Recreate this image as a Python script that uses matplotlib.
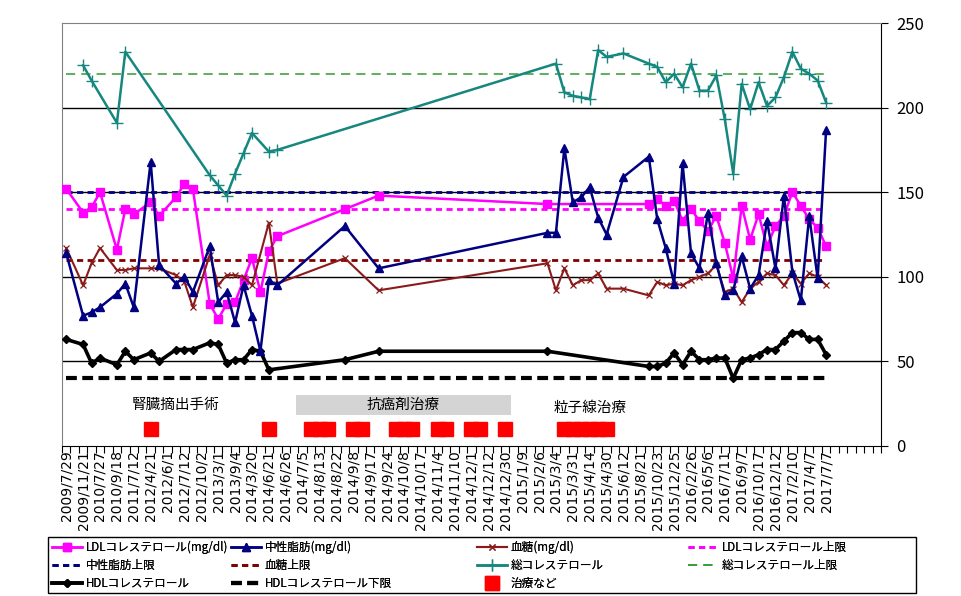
import numpy as np
import matplotlib
matplotlib.use("Agg")
import matplotlib.pyplot as plt
from matplotlib.patches import Rectangle

plt.rcParams['font.family'] = ['Noto Sans CJK JP', 'DejaVu Sans']

# ---- data (category index -> value); 97 categories on the axis, data up to 90
n_categories = 97
n_data = 91
date_labels = ["2009/7/29", "2009/11/21", "2010/7/27", "2010/9/18", "2011/7/12",
               "2012/4/21", "2012/6/1", "2012/7/12", "2012/10/2", "2013/3/1",
               "2013/9/4", "2014/3/20", "2014/6/21", "2014/6/26", "2014/7/5",
               "2014/8/13", "2014/8/22", "2014/9/8", "2014/9/17", "2014/9/24",
               "2014/10/8", "2014/10/17", "2014/11/4", "2014/11/10", "2014/12/1",
               "2014/12/12", "2014/12/30", "2015/1/9", "2015/2/6", "2015/3/4",
               "2015/3/31", "2015/4/14", "2015/4/30", "2015/6/12", "2015/8/21",
               "2015/10/23", "2015/12/25", "2016/2/26", "2016/5/6", "2016/7/11",
               "2016/9/7", "2016/10/17", "2016/12/12", "2017/2/10", "2017/4/7",
               "2017/7/7"]

ldl = {0: 152, 2: 138, 3: 141, 4: 150, 6: 116, 7: 140, 8: 137, 10: 144, 11: 136,
       13: 147, 14: 155, 15: 152, 17: 84, 18: 75, 19: 84, 20: 85, 21: 98, 22: 111,
       23: 91, 24: 115, 25: 124, 33: 140, 37: 148, 57: 143, 69: 143, 70: 146,
       71: 142, 72: 145, 73: 133, 74: 140, 75: 133, 76: 127, 77: 136, 78: 120,
       79: 99, 80: 142, 81: 122, 82: 137, 83: 118, 84: 130, 85: 136, 86: 150,
       87: 142, 88: 134, 89: 129, 90: 118}
tg = {0: 114, 2: 77, 3: 79, 4: 82, 6: 90, 7: 96, 8: 82, 10: 168, 11: 107, 13: 96,
      14: 100, 15: 91, 17: 118, 18: 85, 19: 91, 20: 73, 21: 95, 22: 77, 23: 56,
      24: 98, 25: 95, 33: 130, 37: 105, 57: 126, 58: 126, 59: 176, 60: 144,
      61: 147, 62: 153, 63: 135, 64: 125, 66: 159, 69: 171, 70: 134, 71: 117,
      72: 96, 73: 167, 74: 114, 75: 105, 76: 138, 77: 108, 78: 89, 79: 92,
      80: 112, 81: 93, 82: 101, 83: 133, 84: 105, 85: 148, 86: 103, 87: 86,
      88: 136, 89: 99, 90: 187}
glucose = {0: 117, 2: 95, 3: 108, 4: 117, 6: 104, 7: 104, 8: 105, 10: 105, 11: 105,
           13: 101, 14: 97, 15: 82, 17: 113, 18: 95, 19: 101, 20: 101, 21: 100,
           22: 95, 24: 132, 25: 96, 33: 111, 37: 92, 57: 108, 58: 92, 59: 105,
           60: 95, 61: 98, 62: 98, 63: 102, 64: 93, 66: 93, 69: 89, 70: 97, 71: 95,
           72: 96, 73: 95, 74: 98, 75: 100, 76: 102, 77: 107, 78: 91, 79: 93,
           80: 85, 81: 93, 82: 97, 83: 102, 84: 101, 85: 95, 86: 102, 87: 96,
           88: 102, 89: 100, 90: 95}
total_chol = {2: 225, 3: 216, 6: 191, 7: 233, 17: 160, 18: 154, 19: 148, 20: 161,
              21: 173, 22: 185, 24: 174, 25: 175, 58: 226, 59: 209, 60: 207,
              61: 206, 62: 205, 63: 234, 64: 230, 66: 232, 69: 226, 70: 224,
              71: 215, 72: 220, 73: 212, 74: 226, 75: 210, 76: 210, 77: 219,
              78: 193, 79: 161, 80: 214, 81: 199, 82: 215, 83: 201, 84: 206,
              85: 218, 86: 233, 87: 223, 88: 220, 89: 216, 90: 203}
hdl = {0: 63, 2: 60, 3: 49, 4: 52, 6: 48, 7: 56, 8: 51, 10: 55, 11: 50, 13: 57,
       14: 57, 15: 57, 17: 61, 18: 60, 19: 49, 20: 51, 21: 51, 22: 57, 23: 56,
       24: 45, 33: 51, 37: 56, 57: 56, 69: 47, 70: 47, 71: 49, 72: 55, 73: 48,
       74: 56, 75: 51, 76: 51, 77: 52, 78: 52, 79: 40, 80: 51, 81: 52, 82: 54,
       83: 57, 84: 57, 85: 62, 86: 67, 87: 67, 88: 63, 89: 63, 90: 54}
treatment = {i: 10 for i in [10, 24, 29, 30, 31, 34, 35, 39, 40, 41, 44, 45,
                             48, 49, 52, 59, 60, 61, 62, 63, 64]}

ldl_upper = 140
tg_upper = 150
glucose_upper = 110
total_upper = 220
hdl_lower = 40

annotations = [("腎臓摘出手術", 13.0, 24.5), ("粒子線治療", 62.0, 22.5)]
chemo_label = "抗癌剤治療"
chemo_span = (27.2, 52.7, 18.3, 30.2)

# ---- figure
W, H = 962, 596
fig = plt.figure(figsize=(W / 100, H / 100), dpi=100)
ax = fig.add_axes([62 / W, 1 - 446 / H, (881 - 62) / W, (446 - 23) / H])


def series(d):
    xs = sorted(d)
    return xs, [d[k] for k in xs]


for yv in [50, 100, 150, 200]:
    ax.axhline(yv, color='black', lw=1.0, zorder=1)

last = n_data - 1
h_ldlu = ax.hlines(ldl_upper, 0, last, colors='#FF00FF', lw=2.0, linestyles=(0, (2.2, 1.6)), zorder=2)
h_tgu = ax.hlines(tg_upper, 0, last, colors='#000080', lw=2.0, linestyles=(0, (2.2, 1.6)), zorder=2)
h_glu = ax.hlines(glucose_upper, 0, last, colors='#800000', lw=2.0, linestyles=(0, (2.2, 1.6)), zorder=2)
h_tcu = ax.hlines(total_upper, 0, last, colors='#339933', lw=1.1, linestyles=(0, (6, 4)), zorder=2)
h_hdll = ax.hlines(hdl_lower, 0, last, colors='black', lw=3.0, linestyles=(0, (2.6, 1.3)), zorder=2)

x, y = series(ldl)
l_ldl, = ax.plot(x, y, color='#FF00FF', lw=1.8, marker='s', ms=5.5, mec='#FF00FF', zorder=4)
x, y = series(tg)
l_tg, = ax.plot(x, y, color='#000080', lw=1.8, marker='^', ms=5.5, zorder=5)
x, y = series(glucose)
l_gl, = ax.plot(x, y, color='#8B1A1A', lw=1.5, marker='x', ms=5, mew=0.9, zorder=4)
x, y = series(total_chol)
l_tc, = ax.plot(x, y, color='#15877F', lw=1.8, marker='+', ms=8.5, mew=1.0, zorder=4)
x, y = series(hdl)
l_hdl, = ax.plot(x, y, color='black', lw=2.6, marker='D', ms=4.5, zorder=4)
x, y = series(treatment)
l_tr, = ax.plot(x, y, ls='none', color='#FF0000', marker='s', ms=9.4, mec='#FF0000', zorder=4)

# annotations
for txt, ax_x, ax_y in annotations:
    ax.text(ax_x, ax_y, txt, ha='center', va='center', fontsize=10.5, zorder=6)
x0, x1, y0, y1 = chemo_span
ax.add_patch(Rectangle((x0, y0), x1 - x0, y1 - y0, facecolor='#D4D4D4', edgecolor='none', zorder=3))
ax.text((x0 + x1) / 2, (y0 + y1) / 2, chemo_label, ha='center', va='center', fontsize=10.5, zorder=6)

# axes
ax.set_xlim(-0.5, n_categories - 0.5)
ax.set_ylim(0, 250)
ax.set_xticks(np.arange(-0.5, n_categories, 1.0))
ax.set_xticklabels([])
ax.set_xticks(np.arange(0, n_data, 2), minor=True)
ax.set_xticklabels(date_labels, minor=True, rotation=90, fontsize=10,
                   family=['DejaVu Sans'])
ax.tick_params(axis='x', which='major', direction='out', length=5, width=0.8, color='black')
ax.tick_params(axis='x', which='minor', length=0, pad=3)
for lab in ax.get_xticklabels(minor=True):
    lab.set_va('top')
ax.yaxis.tick_right()
ax.set_yticks([0, 50, 100, 150, 200, 250])
ax.tick_params(axis='y', direction='out', length=5, width=0.8, labelsize=12, pad=6)

for s in ['left', 'top']:
    ax.spines[s].set_color('#808080')
for s in ['right', 'bottom']:
    ax.spines[s].set_color('black')

# legend: four columns placed like the original, inside one frame
columns = [
    ([l_ldl, h_tgu, l_hdl], ["LDLコレステロール(mg/dl)", "中性脂肪上限", "HDLコレステロール"]),
    ([l_tg, h_glu, h_hdll], ["中性脂肪(mg/dl)", "血糖上限", "HDLコレステロール下限"]),
    ([l_gl, l_tc, l_tr], ["血糖(mg/dl)", "総コレステロール", "治療など"]),
    ([h_ldlu, h_tcu], ["LDLコレステロール上限", "総コレステロール上限"]),
]
col_x = [52, 231, 477, 688]
for (hs, ls), cx in zip(columns, col_x):
    lg = fig.legend(hs, ls, loc='upper left', bbox_to_anchor=(cx / W, 1 - 541 / H),
                    fontsize=8.4, frameon=False, handlelength=2.6, handletextpad=0.3,
                    labelspacing=0.4, borderpad=0.0, borderaxespad=0)
    fig.add_artist(lg)
fig.add_artist(Rectangle((48 / W, 1 - 593 / H), (916 - 48) / W, (593 - 537) / H,
                         transform=fig.transFigure, facecolor='none',
                         edgecolor='black', lw=1.0))

fig.savefig('out.png', dpi=100)
